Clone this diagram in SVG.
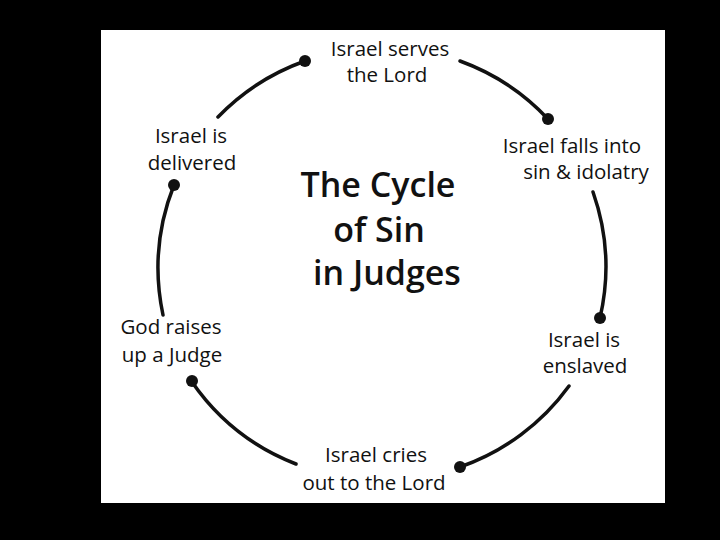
<svg xmlns="http://www.w3.org/2000/svg" width="720" height="540" viewBox="0 0 720 540">
  <style>
    .lbl { font-family: "Open Sans", "DejaVu Sans", sans-serif; font-size: 20.5px; fill: #111; text-anchor: middle; }
    .title { font-family: "Open Sans", "DejaVu Sans", sans-serif; font-size: 34px; font-weight: 600; fill: #111; text-anchor: middle; }
    .arc { fill: none; stroke: #111; stroke-width: 3.5; stroke-linecap: round; }
    .dot { fill: #111; }
  </style>
  <rect x="0" y="0" width="720" height="540" fill="#000"/>
  <rect x="101" y="30" width="564" height="473" fill="#fff"/>

  <g id="connectors">
    <path class="arc" d="M218,117 A226,226 0 0 1 305,61"/>
    <circle class="dot" cx="305" cy="61" r="6"/>
    <path class="arc" d="M460,61 A226,226 0 0 1 548,119"/>
    <circle class="dot" cx="548" cy="119" r="6"/>
    <path class="arc" d="M593,192 A226,226 0 0 1 600,318"/>
    <circle class="dot" cx="600" cy="318" r="6"/>
    <path class="arc" d="M569,386 A226,226 0 0 1 460,467"/>
    <circle class="dot" cx="460" cy="467" r="6"/>
    <path class="arc" d="M296,464 A226,226 0 0 1 192,382"/>
    <circle class="dot" cx="192" cy="381" r="6"/>
    <path class="arc" d="M163,315 A226,226 0 0 1 174,185"/>
    <circle class="dot" cx="174" cy="185" r="6"/>
  </g>

  <g id="title">
    <text class="title" x="378" y="197">The Cycle</text>
    <text class="title" x="379" y="242">of Sin</text>
    <text class="title" x="387" y="285">in Judges</text>
  </g>

  <g id="node-serves">
    <text class="lbl" x="390" y="56">Israel serves</text>
    <text class="lbl" x="387" y="82">the Lord</text>
  </g>
  <g id="node-falls">
    <text class="lbl" x="572" y="153">Israel falls into</text>
    <text class="lbl" x="586" y="179">sin &amp; idolatry</text>
  </g>
  <g id="node-enslaved">
    <text class="lbl" x="584" y="347">Israel is</text>
    <text class="lbl" x="585" y="373">enslaved</text>
  </g>
  <g id="node-cries">
    <text class="lbl" x="376" y="462">Israel cries</text>
    <text class="lbl" x="374" y="490">out to the Lord</text>
  </g>
  <g id="node-judge">
    <text class="lbl" x="171" y="334">God raises</text>
    <text class="lbl" x="172" y="362">up a Judge</text>
  </g>
  <g id="node-delivered">
    <text class="lbl" x="191" y="143">Israel is</text>
    <text class="lbl" x="192" y="170">delivered</text>
  </g>
</svg>
